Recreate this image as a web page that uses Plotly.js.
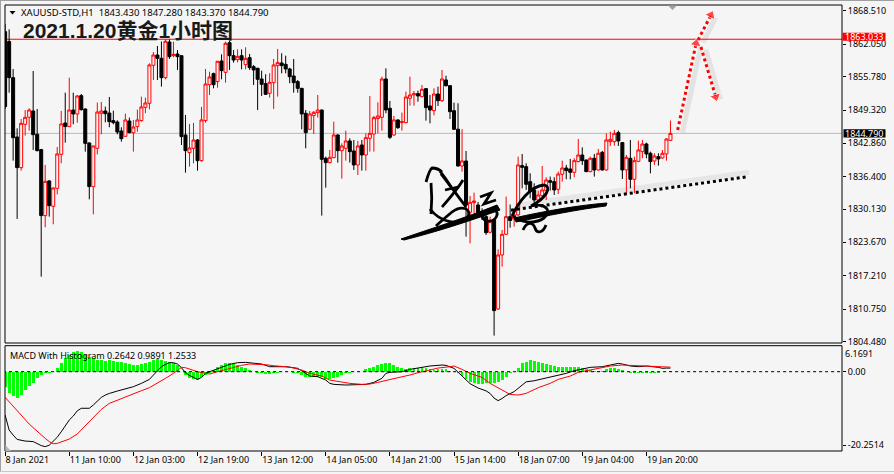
<!DOCTYPE html>
<html><head><meta charset="utf-8">
<script src="https://cdn.plot.ly/plotly-3.0.1.min.js"></script>
<style>html,body{margin:0;padding:0;background:#f5f5f5;}#chart{width:894px;height:474px;}</style>
</head><body><div id="chart"></div>
<script>
// ---- Candle data (H1 bars, index 0 = 8 Jan 2021) ----
const opens = [1864.50,1862.60,1855.59,1844.09,1838.15,1846.55,1847.90,1849.13,1844.61,1841.64,
1828.85,1835.57,1830.65,1834.14,1840.73,1846.80,1846.10,1849.32,1848.55,1852.10,
1849.52,1842.93,1834.47,1841.90,1848.68,1849.13,1848.74,1847.26,1847.00,1845.25,
1844.22,1847.19,1844.93,1846.10,1847.26,1849.84,1850.62,1857.98,1859.98,1859.34,
1855.59,1862.50,1859.85,1860.18,1859.85,1844.48,1841.06,1841.90,1843.51,1839.50,
1847.26,1854.23,1856.37,1854.82,1858.82,1856.62,1862.37,1859.85,1859.08,1859.85,
1858.11,1859.47,1857.72,1857.40,1855.33,1854.43,1852.55,1854.62,1857.92,1858.43,
1858.17,1857.27,1855.91,1854.82,1853.52,1848.68,1845.58,1848.23,1848.81,1849.32,
1839.96,1839.12,1840.09,1844.48,1841.44,1841.90,1843.32,1841.38,1838.67,1842.54,
1840.60,1843.83,1844.67,1847.65,1847.90,1855.33,1849.65,1844.48,1847.39,1846.87,
1846.87,1851.59,1852.23,1852.49,1851.91,1853.46,1850.10,1849.19,1852.42,1851.13,
1855.14,1854.04,1849.19,1845.60,1838.47,1839.44,1829.49,1831.37,1830.91,1829.62,
1828.65,1825.62,1828.01,1810.76,1821.22,1825.23,1828.65,1828.20,1828.98,1838.54,
1838.34,1835.43,1833.82,1831.88,1832.72,1833.69,1835.63,1835.43,1833.95,1836.86,
1838.08,1837.89,1837.24,1839.31,1840.60,1839.63,1837.37,1839.96,1837.70,1841.12,
1837.70,1843.19,1843.19,1844.93,1843.00,1837.70,1839.96,1835.89,1839.37,1841.25,
1842.73,1840.93,1839.44,1840.28,1840.02,1840.80,1843.43];
const highs = [1866.00,1864.96,1857.27,1845.77,1847.58,1849.32,1849.65,1856.88,1849.52,1841.77,
1838.67,1835.76,1834.30,1842.15,1849.13,1852.68,1855.59,1852.68,1852.23,1852.42,
1849.60,1843.06,1842.40,1850.75,1850.87,1849.97,1851.84,1849.19,1847.32,1845.97,
1848.61,1847.84,1847.39,1849.39,1851.91,1851.72,1858.37,1860.56,1861.73,1862.60,
1862.99,1862.99,1862.56,1860.95,1859.90,1848.36,1846.61,1846.80,1843.70,1849.91,
1857.27,1856.75,1856.56,1858.80,1860.11,1862.56,1862.70,1860.95,1861.08,1861.08,
1861.47,1860.20,1858.05,1857.50,1856.95,1856.24,1856.43,1859.21,1861.15,1860.31,
1859.85,1857.50,1859.21,1855.14,1853.60,1849.32,1849.13,1849.13,1852.23,1849.40,
1840.28,1841.57,1847.06,1844.60,1842.86,1845.32,1843.83,1843.51,1843.32,1843.51,
1844.80,1852.04,1848.16,1850.81,1855.78,1857.40,1851.07,1848.16,1847.52,1848.81,
1852.88,1855.78,1853.01,1853.07,1854.17,1853.50,1852.23,1853.52,1853.85,1857.08,
1855.98,1854.10,1850.75,1850.62,1845.58,1841.38,1832.66,1833.30,1831.50,1830.27,
1829.30,1828.65,1828.30,1822.32,1826.07,1832.53,1831.00,1829.43,1840.28,1840.80,
1838.99,1837.05,1835.11,1833.69,1838.47,1836.28,1836.41,1836.28,1837.37,1839.50,
1838.67,1839.83,1839.96,1843.70,1842.09,1839.70,1840.28,1840.80,1841.77,1841.38,
1844.80,1845.13,1845.45,1845.32,1843.10,1840.60,1843.51,1840.28,1843.38,1843.51,
1842.99,1841.25,1840.93,1840.93,1841.57,1843.83,1847.28];
const lows = [1849.50,1852.68,1839.50,1828.20,1837.57,1844.35,1845.32,1841.57,1841.30,1817.02,
1826.58,1828.65,1827.17,1832.98,1838.99,1842.99,1846.00,1846.55,1846.87,1849.19,
1841.25,1832.01,1829.11,1840.73,1844.61,1846.93,1845.97,1846.55,1844.61,1843.19,
1844.16,1844.80,1841.25,1845.13,1847.06,1848.68,1849.45,1855.14,1855.14,1853.85,
1855.27,1859.21,1859.53,1857.08,1842.54,1837.18,1838.34,1838.99,1837.57,1839.31,
1846.87,1852.23,1853.52,1853.65,1855.27,1854.62,1857.08,1858.50,1858.56,1857.21,
1857.21,1857.10,1854.17,1849.32,1852.04,1852.23,1851.71,1849.52,1851.91,1856.43,
1856.43,1854.50,1852.68,1852.68,1845.58,1841.90,1845.45,1844.67,1847.84,1828.85,
1834.27,1838.99,1839.96,1839.12,1836.02,1839.50,1839.12,1837.70,1836.73,1837.57,
1837.57,1841.25,1841.25,1844.80,1845.32,1848.68,1843.70,1844.29,1845.64,1845.32,
1846.74,1850.16,1850.16,1850.94,1851.78,1847.26,1846.74,1848.29,1850.10,1850.87,
1853.85,1847.58,1845.45,1838.34,1837.37,1824.78,1823.48,1829.30,1828.50,1828.01,
1825.10,1825.42,1805.59,1810.56,1818.96,1825.10,1826.50,1826.71,1828.85,1834.14,
1833.82,1832.21,1831.24,1831.56,1832.21,1831.88,1833.69,1832.85,1833.05,1835.43,
1835.89,1835.89,1836.28,1839.18,1838.67,1837.30,1837.24,1836.41,1837.57,1837.57,
1837.57,1842.35,1842.41,1842.35,1835.95,1833.05,1834.14,1833.18,1839.25,1839.96,
1839.96,1837.05,1838.67,1838.54,1839.89,1839.50,1843.37];
const closes = [1849.97,1855.59,1843.96,1838.15,1846.74,1847.90,1849.32,1844.54,1841.44,1828.85,
1835.50,1830.78,1834.21,1840.80,1846.61,1846.10,1849.32,1848.55,1852.04,1849.39,
1842.86,1834.47,1842.35,1848.94,1849.13,1848.61,1847.06,1846.87,1845.06,1843.77,
1847.39,1844.93,1846.03,1847.39,1849.91,1850.68,1858.05,1859.98,1859.34,1855.59,
1862.64,1859.66,1860.11,1859.66,1844.16,1841.44,1841.96,1843.51,1839.50,1847.39,
1854.36,1855.72,1854.23,1858.76,1856.95,1862.25,1859.85,1859.01,1859.72,1859.01,
1859.34,1857.53,1857.08,1855.27,1854.30,1852.36,1854.69,1858.05,1858.50,1857.92,
1857.27,1855.78,1854.62,1853.52,1848.55,1844.93,1848.55,1848.87,1849.32,1839.76,
1839.12,1840.15,1844.48,1841.44,1842.35,1843.32,1841.25,1838.67,1842.35,1840.60,
1843.96,1844.80,1847.84,1848.16,1855.33,1849.32,1844.03,1847.39,1845.90,1847.06,
1851.84,1852.23,1852.49,1852.04,1853.33,1849.78,1849.32,1852.42,1851.13,1855.33,
1854.04,1849.00,1845.58,1838.47,1839.44,1830.91,1831.43,1831.69,1829.30,1828.65,
1825.55,1827.68,1810.44,1821.22,1825.23,1828.65,1827.90,1828.98,1838.67,1838.21,
1834.92,1833.50,1831.88,1832.85,1833.82,1835.76,1835.31,1833.82,1836.92,1838.08,
1837.57,1837.24,1839.50,1840.60,1839.50,1837.37,1839.96,1837.70,1840.93,1837.70,
1843.51,1843.64,1844.80,1843.32,1837.70,1840.15,1835.89,1839.50,1841.57,1842.73,
1840.80,1839.31,1840.41,1839.83,1840.93,1843.70,1844.79];

// ---- MACD panel ----
const histVals = [-4.14,-5.99,-6.72,-7.18,-6.45,-5.06,-3.96,-3.04,-1.84,-0.92,
-0.46,-0.28,-0.09,0.92,2.30,3.68,4.60,5.52,5.71,5.52,
4.60,3.96,3.68,3.22,3.22,3.04,3.22,2.95,2.76,2.58,
2.30,2.03,1.84,1.84,2.03,2.30,2.76,3.22,3.41,3.22,
2.95,2.76,2.49,1.84,0.05,-0.92,-1.84,-2.12,-2.30,-1.57,
-0.92,-0.46,0.46,1.38,1.84,2.30,2.30,2.12,1.84,1.38,
1.10,0.46,0.05,-0.28,-0.46,-0.64,-0.64,-0.46,-0.28,-0.18,
0.05,-0.09,-0.46,-0.46,-0.92,-1.57,-1.57,-1.57,-1.38,-1.38,
-2.12,-2.12,-1.84,-1.38,-0.92,-0.46,-0.28,-0.18,-0.09,0.05,
0.64,0.92,1.38,1.84,2.12,2.49,2.30,1.84,1.38,0.92,
0.74,0.92,0.92,1.10,1.20,0.92,0.64,0.46,0.64,0.64,
0.83,0.28,0.05,-0.46,-1.20,-2.12,-2.76,-3.22,-3.50,-3.50,
-3.22,-3.22,-3.04,-2.76,-2.30,-1.38,-0.46,0.05,0.92,2.30,
2.76,3.22,3.04,2.76,2.49,2.12,1.84,1.57,1.38,1.38,
1.38,1.38,1.38,1.20,0.92,0.64,0.46,0.28,0.28,0.18,
0.64,0.92,0.92,0.74,0.46,0.05,-0.46,-0.46,-0.37,-0.37,
-0.37,-0.37,-0.37,-0.37,-0.18,-0.09,0.18];
const macdIdx = [0,1,2,3,5,7,9,10,11,12,13,14,15,16,17,18,19,20,21,22,23,24,25,26,28,30,32,34,36,37,38,39,40,41,42,43,44,45,46,47,48,49,50,51,52,54,56,58,60,62,64,66,68,70,72,73,75,76,78,80,81,82,85,87,90,92,94,95,96,99,101,104,106,109,110,112,113,114,115,116,117,118,120,121,122,123,124,125,127,129,130,132,135,137,140,142,145,146,149,150,152,153,154,156,158,160,163,164,165,166];
const macdVals = [-11.97,-16.1,-17.5,-18.7,-19.15,-19.3,-20.4,-20.7,-20.3,-19.3,-18.1,-16.6,-15.0,-13.35,-12.25,-10.8,-10.1,-10.2,-10.1,-9.2,-8.1,-7.1,-6.45,-6.0,-5.34,-4.79,-4.14,-3.22,-2.12,-0.92,0.28,1.38,2.03,2.49,2.49,2.12,1.10,-0.28,-1.01,-1.57,-2.12,-1.57,-0.46,0.0,0.46,1.20,2.03,2.49,2.58,2.30,2.12,1.38,1.38,1.38,1.10,0.92,-0.46,-1.20,-1.38,-2.30,-3.22,-3.50,-3.68,-3.68,-3.50,-2.95,-1.84,-0.46,-0.18,0.0,0.64,1.20,1.57,1.84,1.75,0.92,-0.1,-1.3,-2.3,-3.3,-3.9,-4.5,-5.3,-6.0,-7.3,-8.0,-7.4,-6.6,-5.5,-3.7,-2.8,-2.5,-1.8,-1.2,-0.46,0.28,0.92,1.20,1.38,1.57,2.12,2.30,2.12,1.57,1.38,1.57,1.20,0.92,1.0,0.99];
const signalIdx = [0,2,4,6,8,10,11,12,13,14,16,18,20,22,24,26,28,30,32,34,36,38,40,42,43,44,45,46,48,50,51,53,55,57,59,61,63,65,67,69,71,74,76,79,81,84,86,89,91,93,96,98,101,103,106,108,111,112,114,116,119,121,124,126,128,130,133,136,138,141,143,146,149,151,154,156,159,161,164,166];
const signalVals = [-7.09,-9.39,-11.97,-14.46,-16.57,-18.4,-19.3,-19.9,-19.8,-19.4,-18.6,-17.2,-15.0,-12.6,-10.4,-8.75,-7.83,-7.09,-5.99,-5.25,-4.42,-3.22,-1.84,-0.46,0.46,1.20,1.10,0.74,0.0,-0.46,-0.64,0.0,0.64,1.20,1.75,2.12,2.12,1.93,1.66,1.38,1.25,0.46,-0.46,-1.20,-2.30,-2.85,-3.22,-3.50,-3.41,-2.95,-2.30,-1.66,-0.92,-0.28,0.46,1.01,1.38,1.57,0.64,-0.46,-1.57,-3.22,-5.06,-6.26,-6.45,-5.99,-4.42,-3.22,-2.12,-1.20,-0.18,0.46,1.20,1.57,1.84,1.75,1.75,1.57,1.38,1.25];

// ---- Axis labels ----
const xTickIdx = [0,16,32,48,64,80,96,112,128,144,160];
const xTickText = ['8 Jan 2021','11 Jan 10:00','12 Jan 03:00','12 Jan 19:00','13 Jan 12:00','14 Jan 05:00','14 Jan 21:00','15 Jan 14:00','18 Jan 07:00','19 Jan 04:00','19 Jan 20:00'];
const priceTicks = [1868.51,1862.05,1855.78,1849.32,1842.86,1836.40,1830.13,1823.67,1817.21,1810.75,1804.48];
const priceTickText = ['1868.510','1862.050','1855.780','1849.320','1842.860','1836.400','1830.130','1823.670','1817.210','1810.750','1804.480'];
const macdTicks = [6.1691, 0, -20.2514];
const macdTickText = ['6.1691','0.00','-20.2514'];
const lineLevels = {resistance: 1863.033, bid: 1844.79};

// ---- Drawn objects (trend line & arrows), in bar index / price ----
const trendX = [126.2, 184.8], trendY = [1829.91, 1836.34];
const arrowA_X = [167.8, 172.4], arrowA_Y = [1845.44, 1862.25];
const arrowB_X = [172.9, 176.1], arrowB_Y = [1862.89, 1867.73];
const arrowC_X = [173.6, 177.3], arrowC_Y = [1861.53, 1851.84];

// ---- layout geometry helpers ----
const PL = 5, PR = 842, PT = 5, PB = 451;
const px2x = p => (p - PL) / (PR - PL);
const py2y = p => (PB - p) / (PB - PT);
const mainDom = [py2y(343), 1];
const macdDom = [0, py2y(345.7)];
function pxPath(s){ return s.replace(/(-?\d+\.?\d*),(-?\d+\.?\d*)/g,(m,a,b)=>px2x(+a).toFixed(5)+','+py2y(+b).toFixed(5)); }

const idx = opens.map((_, i) => i);
const baseFont = {family:'Noto Sans, Liberation Sans, sans-serif', size:9, color:'#000'};

const traces = [
  {type:'candlestick', x: idx, open: opens, high: highs, low: lows, close: closes, xaxis:'x', yaxis:'y',
   increasing:{line:{color:'#ff0000', width:1}, fillcolor:'#f5f5f5'},
   decreasing:{line:{color:'#000000', width:1}, fillcolor:'#000000'},
   whiskerwidth:0, hoverinfo:'skip', showlegend:false},
  {type:'bar', x: idx, y: histVals, xaxis:'x', yaxis:'y2', marker:{color:'#00ff00', line:{width:0}}, width:0.72, hoverinfo:'skip', showlegend:false},
  {type:'scatter', mode:'lines', x: macdIdx, y: macdVals, xaxis:'x', yaxis:'y2', line:{color:'#000', width:1}, hoverinfo:'skip', showlegend:false},
  {type:'scatter', mode:'lines', x: signalIdx, y: signalVals, xaxis:'x', yaxis:'y2', line:{color:'#ff0000', width:1}, hoverinfo:'skip', showlegend:false},
];
// soft drop shadows under the hand-drawn lines
function shadow(xs, ys, dx, dy, a){ return {type:'scatter', mode:'lines', x: xs.map(v=>v+dx), y: ys.map(v=>v+dy), line:{color:'rgba(60,60,60,'+a+')', width:5}, hoverinfo:'skip', showlegend:false}; }
traces.push(shadow(trendX, trendY, 0.8, 0.9, 0.08));
traces.push(shadow(arrowA_X, arrowA_Y, 1.2, -0.5, 0.09));
traces.push(shadow(arrowB_X, arrowB_Y, 1.2, -0.5, 0.09));
traces.push(shadow(arrowC_X, arrowC_Y, 1.2, -0.5, 0.09));
traces.push({type:'scatter', mode:'lines', x: trendX, y: trendY, line:{color:'#000', width:3, dash:'dot'}, hoverinfo:'skip', showlegend:false});
[[arrowA_X, arrowA_Y],[arrowB_X, arrowB_Y],[arrowC_X, arrowC_Y]].forEach(([ax, ay]) => {
  traces.push({type:'scatter', mode:'lines+markers', x: ax, y: ay, line:{color:'#ff0000', width:3, dash:'dot'},
    marker:{symbol:'triangle-up', size:[0, 10], color:'#ff0000', angleref:'previous'}, hoverinfo:'skip', showlegend:false});
});

// handwritten signature (decorative)
const sigStrokes = [
 'M 426,182 C 428,175 430,169 432,168 C 436,168 440,170 442,172',
 'M 440,171 C 444,176 448,182 451,187',
 'M 431,183 C 432,193 432,203 431,214',
 'M 441,174 C 449,184 457,195 466,207',
 'M 463,180 C 457,190 449,199 442,207',
 'M 445,190 L 458,187',
 'M 430,209 C 440,222 460,227 468,217 C 472,208 461,205 452,212 C 446,217 440,222 436,226',
 'M 480,197 L 491,193 L 484,204 L 496,200',
 'M 482,216 C 485,207 499,208 497,215 C 495,223 483,223 482,216',
 'M 512,216 C 518,203 530,186 544,185 C 553,187 545,199 531,206 C 545,203 553,210 544,218 C 534,225 520,222 513,216',
 'M 523,230 C 527,221 533,222 535,228 C 537,234 543,233 546,225'
];
const sigFills = [
 'M 401,239 C 430,229 465,218 497,205 L 500,210 C 470,221 436,232 404,240 Z',
 'M 514,218 C 545,211 580,205 607,203 L 606,206 C 580,209 546,216 516,222 Z'
];

const shapes = [
  {type:'line', xref:'x', yref:'y', x0:-5, x1:215, y0:lineLevels.bid, y1:lineLevels.bid, line:{color:'#b9b9b9', width:1}, layer:'below'},
  {type:'line', xref:'x', yref:'y', x0:-5, x1:215, y0:lineLevels.resistance, y1:lineLevels.resistance, line:{color:'#ff0000', width:1}, layer:'below'},
  {type:'line', xref:'x', yref:'y2', x0:-5, x1:215, y0:0, y1:0, line:{color:'#000', width:1, dash:'3px,3px'}, layer:'above'},
  {type:'rect', xref:'paper', yref:'paper', x0:0, x1:1, y0:mainDom[0], y1:1, line:{color:'#000', width:1}},
  {type:'rect', xref:'paper', yref:'paper', x0:0, x1:1, y0:0, y1:macdDom[1], line:{color:'#000', width:1}},
  {type:'rect', xref:'paper', yref:'y', ysizemode:'pixel', yanchor:lineLevels.resistance, y0:-1.6, y1:6.6, x0:px2x(842.5), x1:px2x(885.5), fillcolor:'#ff0000', line:{width:0}},
  {type:'rect', xref:'paper', yref:'y', ysizemode:'pixel', yanchor:lineLevels.bid, y0:-4.2, y1:4.2, x0:px2x(843.5), x1:px2x(885.5), fillcolor:'#000000', line:{width:0}},
  {type:'path', xref:'paper', yref:'paper', path:pxPath('M 9.5,11 L 15.5,11 L 12.5,14.5 Z'), fillcolor:'#000', line:{width:0}},
  {type:'path', xref:'paper', yref:'paper', path:pxPath('M 668,5.5 L 677,5.5 L 672.5,10 Z'), fillcolor:'#a0a0a0', line:{width:0}},
  {type:'path', xref:'paper', yref:'paper', path:pxPath('M 5.5,451 L 5.5,445 L 11,451 Z'), fillcolor:'#b8b8b8', line:{width:0}},
  {type:'line', xref:'paper', yref:'paper', x0:px2x(0.5), x1:px2x(0.5), y0:py2y(0), y1:py2y(472), line:{color:'#a0a0a0', width:1}},
  {type:'line', xref:'paper', yref:'paper', x0:px2x(0), x1:px2x(894), y0:py2y(0.5), y1:py2y(0.5), line:{color:'#a0a0a0', width:1}},
  {type:'line', xref:'paper', yref:'paper', x0:px2x(0), x1:px2x(894), y0:py2y(471.5), y1:py2y(471.5), line:{color:'#c8c8c8', width:1}},
];
sigStrokes.forEach(p => shapes.push({type:'path', xref:'paper', yref:'paper', path:pxPath(p), line:{color:'#000', width:2.8}}));
sigFills.forEach(p => shapes.push({type:'path', xref:'paper', yref:'paper', path:pxPath(p), fillcolor:'#000', line:{color:'#000', width:1}}));

const annotations = [
  {xref:'paper', yref:'paper', x:px2x(19), y:py2y(12.7), xanchor:'left', yanchor:'middle', showarrow:false,
   text:'XAUUSD-STD,H1\u00a0\u00a01843.430 1847.280 1843.370 1844.790', font:{family:'Noto Sans, Liberation Sans, sans-serif', size:9.5, color:'#000'}},
  {xref:'paper', yref:'paper', x:px2x(21), y:py2y(30.5), xanchor:'left', yanchor:'middle', showarrow:false,
   text:'2021.1.20黄金1小时图', font:{family:'Liberation Sans, Noto Sans CJK SC, sans-serif', size:21, color:'#1a1a1a', weight:700}},
  {xref:'paper', yref:'paper', x:px2x(8), y:py2y(355), xanchor:'left', yanchor:'middle', showarrow:false,
   text:'MACD With Histogram 0.2642 0.9891 1.2533', font:{family:'Noto Sans, Liberation Sans, sans-serif', size:9, color:'#000'}},
  {xref:'paper', yref:'y', x:px2x(844), y:lineLevels.resistance, yshift:2.5, xanchor:'left', yanchor:'middle', showarrow:false,
   text:'1863.033', font:{family:'Noto Sans, Liberation Sans, sans-serif', size:9, color:'#fff'}, borderpad:0},
  {xref:'paper', yref:'y', x:px2x(844), y:lineLevels.bid, xanchor:'left', yanchor:'middle', showarrow:false,
   text:'1844.790', font:{family:'Noto Sans, Liberation Sans, sans-serif', size:9, color:'#fff'}, borderpad:0},
  {xref:'paper', yref:'paper', x:px2x(844), y:py2y(353.5), xanchor:'left', yanchor:'middle', showarrow:false,
   text:macdTickText[0], font:baseFont, borderpad:0},
];

const layout = {
  width:894, height:474, autosize:false,
  margin:{l:PL, r:894-PR, t:PT, b:474-PB, pad:0},
  paper_bgcolor:'#f5f5f5', plot_bgcolor:'#f5f5f5',
  showlegend:false, boxgap:0.25, boxgroupgap:0, bargap:0,
  xaxis:{domain:[0,1], anchor:'y2', range:[-0.03, 208.8], rangeslider:{visible:false},
    tickvals:xTickIdx, ticktext:xTickText, ticks:'outside', ticklen:4, tickcolor:'#000', tickwidth:1,
    ticklabelposition:'outside right', showgrid:false, zeroline:false, showline:false, tickfont:baseFont, fixedrange:true},
  yaxis:{domain:mainDom, anchor:'x', side:'right', range:[1804.16, 1869.67],
    tickvals:priceTicks, ticktext:priceTickText, ticks:'outside', ticklen:3, tickcolor:'#000',
    showgrid:false, zeroline:false, showline:false, tickfont:baseFont, fixedrange:true},
  yaxis2:{domain:macdDom, anchor:'x', side:'right', range:[-21.9, 7.18],
    tickvals:macdTicks.slice(1), ticktext:macdTickText.slice(1), ticks:'outside', ticklen:3, tickcolor:'#000',
    showgrid:false, zeroline:false, showline:false, tickfont:baseFont, fixedrange:true},
  shapes:shapes, annotations:annotations
};

Plotly.newPlot('chart', traces, layout, {staticPlot:true, displayModeBar:false});
</script>
</body></html>
